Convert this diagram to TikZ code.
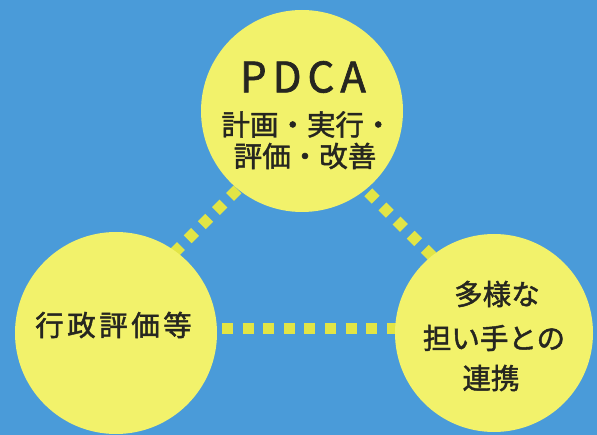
\documentclass[tikz,border=0pt]{standalone}
\usepackage{fontspec}
\newfontfamily\jp[FakeBold=1.6]{Noto Sans CJK JP}
\definecolor{bgblue}{HTML}{4A9BD9}
\definecolor{cyellow}{HTML}{F2F26B}
\definecolor{dyellow}{HTML}{E2E545}
\definecolor{ink}{HTML}{262620}
\begin{document}
\begin{tikzpicture}[x=1pt,y=-1pt,
  bubble/.style={circle, fill=cyellow, minimum size=#1, inner sep=0pt},
  dots/.style={draw=dyellow, line width=11pt, dash pattern=on 11pt off 9.6pt},
  lbl/.style={text=ink, inner sep=0pt, font=\jp\fontsize{28.5}{30}\selectfont}]
\fill[bgblue] (0,0) rectangle (597,435);
\useasboundingbox (0,0) rectangle (597,435);
% connector end points
\coordinate (h1) at (222,329);
\coordinate (h2) at (420,329);
\coordinate (d1) at (170,257);
\coordinate (d2) at (260,167);
\coordinate (e1) at (340,164);
\coordinate (e2) at (440,264);
\draw[dots] (h1) -- (h2);
\draw[dots, dash pattern=on 10.5pt off 9.5pt, dash phase=15pt] (d1) -- (d2);
\draw[dots, dash pattern=on 10.5pt off 9.5pt] (e1) -- (e2);
% circles
\node[bubble=202pt] (top) at (302,111) {};
\node[bubble=202pt] (left) at (116,333) {};
\node[bubble=198pt] (right) at (494,333) {};
% texts
\node[lbl, font=\jp\fontsize{42}{42}\selectfont] (pdca) at (303,77) {P\hspace{6pt}D\hspace{6pt}C\hspace{6pt}A};
\node[lbl] (t1) at (307,124.5) {計画・実行・};
\node[lbl] (t2) at (305,156) {評価・改善};
\node[lbl] (l1) at (113.5,325) {行\hspace{3.5pt}政\hspace{3.5pt}評\hspace{3.5pt}価\hspace{3.5pt}等};
\node[lbl] (r1) at (497,294) {多様な};
\node[lbl] (r2) at (494,338) {担い手との};
\node[lbl] (r3) at (491,378) {連携};
\end{tikzpicture}
\end{document}
